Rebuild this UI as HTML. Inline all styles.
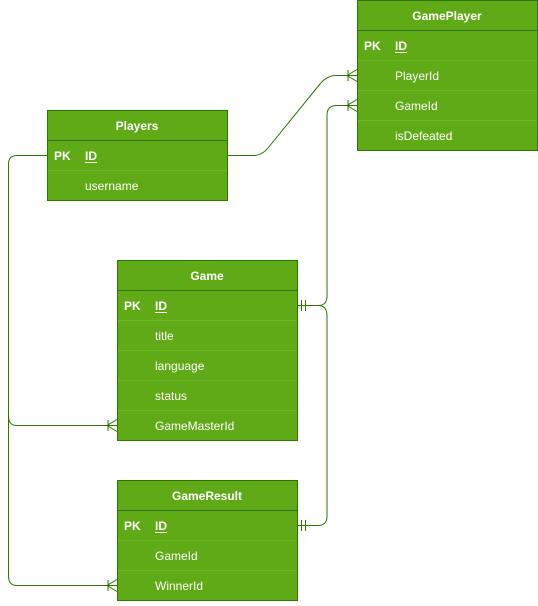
<!DOCTYPE html>
<html><head><style>
body{margin:0;background:#fff;}
svg text{font-family:"Liberation Sans",Arial,sans-serif;font-size:12px;fill:#fff;}
</style></head><body>
<svg width="538" height="601" viewBox="0 0 538 601" xmlns="http://www.w3.org/2000/svg">
<g fill="none" stroke="#2D7600" stroke-width="1">
<path d="M227.5 155.5 H253 Q262 155.5 268 148 L320 84 Q327 75.5 336 75.5 H357"/>
<path d="M297 305.5 H318 Q327 305.5 327 296 V115 Q327 105.5 337 105.5 H357"/>
<path d="M297 525.5 H318 Q327 525.5 327 516 V316 Q327 305.5 318 305.5"/>
<path d="M47 155.5 H17 Q8.5 155.5 8.5 164 V416 Q8.5 425.5 17 425.5 H117"/>
<path d="M8.5 410 V576 Q8.5 585.5 17 585.5 H117"/>
<path d="M357 69.5 L347 75.5 L357 81.5 M348 70 V81"/>
<path d="M357 99.5 L347 105.5 L357 111.5 M348 100 V111"/>
<path d="M117 419.5 L107 425.5 L117 431.5 M108 420 V431"/>
<path d="M117 579.5 L107 585.5 L117 591.5 M108 580 V591"/>
<path d="M301.5 300 V311 M305.5 300 V311"/>
<path d="M301.5 520 V531 M305.5 520 V531"/>
</g>
<g stroke="#2D7600" fill="#60A917">
<rect x="357.5" y="0.5" width="180" height="150"/>
<rect x="47.5" y="110.5" width="180" height="90"/>
<rect x="117.5" y="260.5" width="180" height="180"/>
<rect x="117.5" y="480.5" width="180" height="120"/>
</g>
<g stroke="#6db52a" stroke-width="1">
<line x1="358" y1="30.5" x2="537" y2="30.5" stroke="#2D7600"/>
<line x1="358" y1="60.5" x2="537" y2="60.5"/><line x1="358" y1="90.5" x2="537" y2="90.5"/><line x1="358" y1="120.5" x2="537" y2="120.5"/>
<line x1="48" y1="140.5" x2="227" y2="140.5" stroke="#2D7600"/><line x1="48" y1="170.5" x2="227" y2="170.5"/>
<line x1="118" y1="290.5" x2="297" y2="290.5" stroke="#2D7600"/>
<line x1="118" y1="320.5" x2="297" y2="320.5"/><line x1="118" y1="350.5" x2="297" y2="350.5"/><line x1="118" y1="380.5" x2="297" y2="380.5"/><line x1="118" y1="410.5" x2="297" y2="410.5"/>
<line x1="118" y1="510.5" x2="297" y2="510.5" stroke="#2D7600"/>
<line x1="118" y1="540.5" x2="297" y2="540.5"/><line x1="118" y1="570.5" x2="297" y2="570.5"/>
</g>
<g font-weight="bold">
<text x="447" y="20" text-anchor="middle" font-weight="bold">GamePlayer</text>
<text x="137" y="130" text-anchor="middle" font-weight="bold">Players</text>
<text x="207" y="280" text-anchor="middle" font-weight="bold">Game</text>
<text x="207" y="500" text-anchor="middle" font-weight="bold">GameResult</text>
<text x="364" y="50" font-weight="bold">PK</text><text x="395" y="50" font-weight="bold">ID</text>
<text x="54" y="160" font-weight="bold">PK</text><text x="85" y="160" font-weight="bold">ID</text>
<text x="124" y="310" font-weight="bold">PK</text><text x="155" y="310" font-weight="bold">ID</text>
<text x="124" y="530" font-weight="bold">PK</text><text x="155" y="530" font-weight="bold">ID</text>
</g>
<text x="395" y="80">PlayerId</text><text x="395" y="110">GameId</text><text x="395" y="140">isDefeated</text>
<text x="85" y="190">username</text>
<text x="155" y="340">title</text><text x="155" y="370">language</text><text x="155" y="400">status</text><text x="155" y="430">GameMasterId</text>
<text x="155" y="560">GameId</text><text x="155" y="590">WinnerId</text>
<g stroke="#fff" stroke-width="1"><line x1="395" y1="52.5" x2="407" y2="52.5"/><line x1="85" y1="162.5" x2="97" y2="162.5"/><line x1="155" y1="312.5" x2="167" y2="312.5"/><line x1="155" y1="532.5" x2="167" y2="532.5"/></g>
</svg>
</body></html>
